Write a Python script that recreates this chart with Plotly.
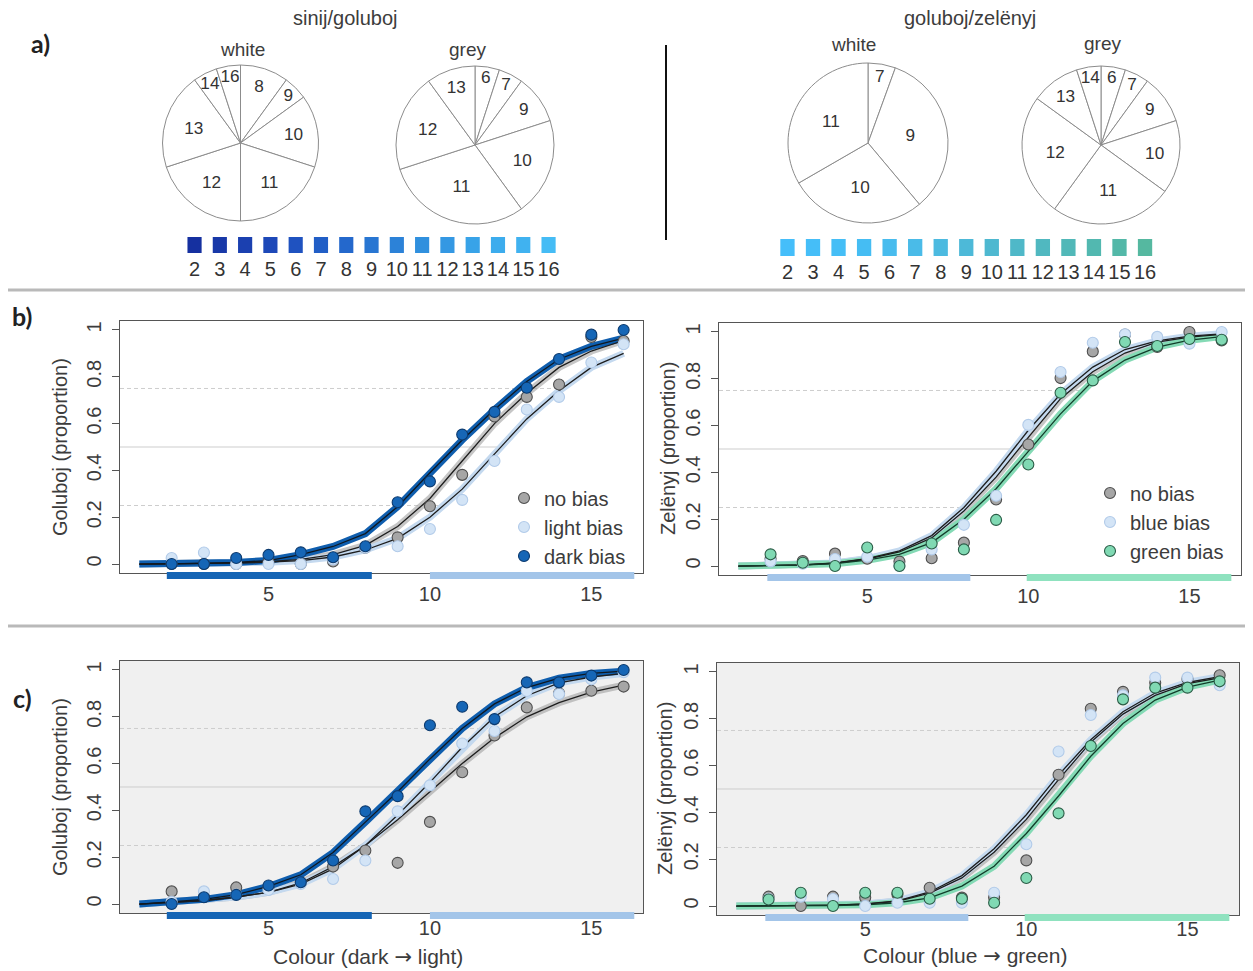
import plotly.graph_objects as go

# target canvas 1253x971; the page body adds an 8px margin, so the figure is drawn 8px smaller
PAGE_W, PAGE_H = 1253, 971
OFF = 8
W, H = PAGE_W - OFF, PAGE_H - OFF

# ---------------- data ----------------
levels = list(range(2, 17))          # colour numbers with data points
curve_x = list(range(1, 17))         # fitted-curve evaluation points

# a) pies: focal colour choices
pie_sg_white_labels = [8, 9, 10, 11, 12, 13, 14, 16]
pie_sg_white_counts = [2, 1, 3, 4, 4, 4, 1, 1]
pie_sg_grey_labels = [6, 7, 9, 10, 11, 12, 13]
pie_sg_grey_counts = [1, 1, 2, 4, 6, 4, 2]
pie_gz_white_labels = [7, 9, 10, 11]
pie_gz_white_counts = [1, 6, 5, 6]
pie_gz_grey_labels = [6, 7, 9, 10, 11, 12, 13, 14]
pie_gz_grey_counts = [1, 1, 2, 3, 5, 5, 2, 1]

# colour strips (stimuli 2..16)
strip_sg_colors = ['#1530a0', '#1838a8', '#1b40b0', '#1d48b8', '#1f52c0', '#215ec6', '#2468cc',
                   '#2876d2', '#2c82d8', '#3090de', '#3498e3', '#38a3e8', '#3caced', '#40b2f0', '#45bcf5']
strip_gz_colors = ['#45befa', '#45bef8', '#45bef6', '#45bdf3', '#48bcee', '#4abbe8', '#4cbae0',
                   '#4db9d8', '#4eb8d0', '#4fb8c8', '#50b8c0', '#51b8b8', '#52b8b0', '#53b8a8', '#55b8a0']

# category ranges drawn under the x axis
cat_sg_ranges = [[1.85, 8.2], [10.0, 16.33]]
cat_gz_ranges = [[1.9, 8.2], [9.95, 16.3]]

# b) sinij/goluboj
b_sg_pts_none = [0.0, 0.0, 0.0, 0.01, 0.0, 0.011, 0.07, 0.114, 0.247, 0.381, 0.63, 0.714, 0.767, 0.97, 0.953]
b_sg_pts_light = [0.026, 0.049, 0.0, 0.0, 0.0, 0.02, 0.07, 0.076, 0.15, 0.274, 0.44, 0.66, 0.714, 0.861, 0.939]
b_sg_pts_dark = [0.0, 0.0, 0.026, 0.039, 0.05, 0.029, 0.076, 0.264, 0.353, 0.553, 0.65, 0.753, 0.876, 0.98, 1.0]
b_sg_fit_none = [0.0, 0.001, 0.002, 0.005, 0.01, 0.02, 0.04, 0.08, 0.16, 0.28, 0.44, 0.6, 0.73, 0.84, 0.91, 0.955]
b_sg_fit_light = [0.0, 0.001, 0.002, 0.004, 0.008, 0.015, 0.03, 0.06, 0.11, 0.2, 0.32, 0.47, 0.62, 0.74, 0.84, 0.9]
b_sg_fit_dark = [0.0, 0.001, 0.003, 0.007, 0.015, 0.04, 0.075, 0.13, 0.245, 0.39, 0.53, 0.66, 0.78, 0.875, 0.93, 0.965]

# b) goluboj/zelenyj
b_gz_pts_none = [0.031, 0.021, 0.053, 0.031, 0.019, 0.033, 0.1, 0.284, 0.519, 0.803, 0.917, 0.989, 0.936, 1.0, 0.964]
b_gz_pts_blue = [0.02, 0.01, 0.03, 0.04, 0.0, 0.071, 0.176, 0.3, 0.603, 0.829, 0.954, 0.99, 0.979, 0.95, 1.0]
b_gz_pts_green = [0.05, 0.014, 0.0, 0.079, 0.0, 0.096, 0.071, 0.197, 0.434, 0.74, 0.793, 0.957, 0.94, 0.97, 0.967]
b_gz_fit_none = [0.0, 0.002, 0.005, 0.012, 0.03, 0.06, 0.12, 0.235, 0.38, 0.55, 0.715, 0.83, 0.91, 0.957, 0.978, 0.99]
b_gz_fit_blue = [0.0, 0.002, 0.005, 0.013, 0.032, 0.065, 0.13, 0.25, 0.405, 0.58, 0.735, 0.85, 0.925, 0.962, 0.982, 0.992]
b_gz_fit_green = [0.0, 0.002, 0.004, 0.01, 0.025, 0.05, 0.1, 0.2, 0.33, 0.49, 0.65, 0.79, 0.88, 0.935, 0.965, 0.98]

# c) sinij/goluboj
c_sg_pts_none = [0.054, 0.03, 0.071, 0.07, 0.09, 0.16, 0.229, 0.176, 0.351, 0.563, 0.72, 0.84, 0.9, 0.911, 0.929]
c_sg_pts_light = [0.01, 0.054, 0.04, 0.06, 0.086, 0.107, 0.186, 0.396, 0.507, 0.686, 0.739, 0.91, 0.897, 0.96, 0.99]
c_sg_pts_dark = [0.0, 0.029, 0.039, 0.079, 0.093, 0.186, 0.396, 0.461, 0.764, 0.843, 0.79, 0.947, 0.947, 0.976, 1.0]
c_sg_fit_none = [0.0, 0.008, 0.015, 0.03, 0.05, 0.09, 0.16, 0.25, 0.36, 0.48, 0.6, 0.71, 0.8, 0.86, 0.905, 0.935]
c_sg_fit_light = [0.0, 0.008, 0.015, 0.03, 0.05, 0.085, 0.15, 0.25, 0.38, 0.52, 0.67, 0.8, 0.89, 0.945, 0.97, 0.985]
c_sg_fit_dark = [0.0, 0.01, 0.02, 0.04, 0.075, 0.125, 0.22, 0.35, 0.48, 0.62, 0.75, 0.855, 0.925, 0.965, 0.985, 0.995]

# c) goluboj/zelenyj
c_gz_pts_none = [0.04, 0.0, 0.04, 0.036, 0.05, 0.078, 0.036, 0.036, 0.195, 0.561, 0.843, 0.915, 0.954, 0.97, 0.986]
c_gz_pts_blue = [0.03, 0.04, 0.03, 0.0, 0.014, 0.014, 0.014, 0.057, 0.264, 0.66, 0.816, 0.9, 0.976, 0.976, 0.943]
c_gz_pts_green = [0.028, 0.057, 0.0, 0.057, 0.057, 0.031, 0.031, 0.014, 0.12, 0.396, 0.684, 0.883, 0.933, 0.933, 0.96]
c_gz_fit_none = [0.0, 0.001, 0.002, 0.004, 0.008, 0.02, 0.055, 0.12, 0.23, 0.37, 0.54, 0.7, 0.82, 0.9, 0.95, 0.975]
c_gz_fit_blue = [0.0, 0.001, 0.002, 0.004, 0.009, 0.022, 0.06, 0.13, 0.245, 0.39, 0.56, 0.71, 0.83, 0.91, 0.955, 0.98]
c_gz_fit_green = [0.0, 0.0, 0.001, 0.002, 0.005, 0.014, 0.035, 0.085, 0.17, 0.31, 0.47, 0.64, 0.78, 0.88, 0.935, 0.965]

threshold_levels = [0.25, 0.5, 0.75]
y_ticks = [0, 0.2, 0.4, 0.6, 0.8, 1]
y_ticktext = ['0', '0.2', '0.4', '0.6', '0.8', '1']
x_ticks = [5, 10, 15]

# ---------------- styling ----------------
FONT = 'Liberation Sans, Arial, sans-serif'
TXT = '#3c3c3c'

STY = {
    'no bias': dict(fill='#a6a6a6', edge='#4f4f4f', band='rgba(160,160,160,0.6)', line='#1e1e1e'),
    'light bias': dict(fill='#d3e4f6', edge='#b2cbe9', band='#c4d9ef', line='#1e1e1e'),
    'blue bias': dict(fill='#d3e4f6', edge='#b2cbe9', band='#c4d9ef', line='#1e1e1e'),
    'dark bias': dict(fill='#1666b6', edge='#0c3a6e', band='#0f5eae', line='#101820'),
    'green bias': dict(fill='#80d9b3', edge='#2a5c46', band='#84dab5', line='#123d2a'),
}
CAT_COL = {'dark': '#1565b5', 'light': '#a3c5e9', 'green': '#8fe2bf'}
ARROW = '<span style="font-family:DejaVu Sans">→</span>'


def fx(p):
    return (p - OFF) / W


def fy(p):
    return 1 - (p - OFF) / H


fig = go.Figure()
layout = dict(width=W, height=H, margin=dict(l=0, r=0, t=0, b=0),
              paper_bgcolor='white', plot_bgcolor='rgba(0,0,0,0)',
              font=dict(family=FONT, color=TXT), showlegend=True,
              uniformtext=dict(minsize=17, mode='show'))
shapes = []
annotations = []

# ---------------- pies ----------------
pies = [
    (pie_sg_white_labels, pie_sg_white_counts, 240.5, 143, 78),
    (pie_sg_grey_labels, pie_sg_grey_counts, 475, 145, 79),
    (pie_gz_white_labels, pie_gz_white_counts, 868, 143, 80),
    (pie_gz_grey_labels, pie_gz_grey_counts, 1101, 145, 79),
]
for labels, counts, cx, cy, r in pies:
    fig.add_trace(go.Pie(
        labels=[str(v) for v in labels], values=counts, sort=False, direction='clockwise',
        rotation=0, textinfo='label', textposition='inside', insidetextorientation='horizontal',
        marker=dict(colors=['white'] * len(labels), line=dict(color='#8c8c8c', width=1)),
        textfont=dict(size=18, color='#333333', family=FONT),
        domain=dict(x=[fx(cx - r), fx(cx + r)], y=[fy(cy + r), fy(cy - r)]),
        showlegend=False, hoverinfo='skip'))

# ---------------- colour strips ----------------
strips = [('x5', 'y5', strip_sg_colors, (181.9, 561.2), (237, 253)),
          ('x6', 'y6', strip_gz_colors, (774.7, 1157.8), (239, 256))]
for xa, ya, cols, xd, yd in strips:
    fig.add_trace(go.Bar(x=levels, y=[1] * len(levels), width=0.56, marker=dict(color=cols, line=dict(width=0)),
                         xaxis=xa, yaxis=ya, showlegend=False, hoverinfo='skip'))
    n = xa[1:]
    layout['xaxis' + n] = dict(domain=[fx(xd[0]), fx(xd[1])], range=[1.5, 16.5], anchor=ya,
                               tickvals=levels, ticktext=[str(v) for v in levels], ticks='',
                               showline=False, showgrid=False, zeroline=False,
                               tickfont=dict(size=20, color='#333333'), ticklabelstandoff=2)
    layout['yaxis' + n] = dict(domain=[fy(yd[1]), fy(yd[0])], range=[0, 1], anchor=xa, visible=False)

# ---------------- psychometric panels ----------------
panels = [
    dict(n='', bn='7', xd=(120, 643), yd=(320.6, 573.4), bg=False, legend='legend', xstand=2,
         series=[('no bias', b_sg_pts_none, b_sg_fit_none), ('light bias', b_sg_pts_light, b_sg_fit_light),
                 ('dark bias', b_sg_pts_dark, b_sg_fit_dark)],
         cats=cat_sg_ranges, catcols=['dark', 'light']),
    dict(n='2', bn='8', xd=(719, 1241), yd=(322.6, 575.4), bg=False, legend='legend2', xstand=2,
         series=[('no bias', b_gz_pts_none, b_gz_fit_none), ('blue bias', b_gz_pts_blue, b_gz_fit_blue),
                 ('green bias', b_gz_pts_green, b_gz_fit_green)],
         cats=cat_gz_ranges, catcols=['light', 'green']),
    dict(n='3', bn='9', xd=(120, 643), yd=(660.6, 913.4), bg=True, legend=None, xstand=-4,
         series=[('no bias', c_sg_pts_none, c_sg_fit_none), ('light bias', c_sg_pts_light, c_sg_fit_light),
                 ('dark bias', c_sg_pts_dark, c_sg_fit_dark)],
         cats=cat_sg_ranges, catcols=['dark', 'light']),
    dict(n='4', bn='10', xd=(717, 1239), yd=(662.6, 915.4), bg=True, legend=None, xstand=-5,
         series=[('no bias', c_gz_pts_none, c_gz_fit_none), ('blue bias', c_gz_pts_blue, c_gz_fit_blue),
                 ('green bias', c_gz_pts_green, c_gz_fit_green)],
         cats=cat_gz_ranges, catcols=['light', 'green']),
]

XR = [0.4, 16.6]
YR = [-0.04, 1.04]


def crossing(xs, ys, level):
    for i in range(len(xs) - 1):
        if ys[i] < level <= ys[i + 1]:
            return xs[i] + (level - ys[i]) / (ys[i + 1] - ys[i]) * (xs[i + 1] - xs[i])
    return xs[-1]


for p in panels:
    xa = 'x' + p['n']
    ya = 'y' + p['n']
    layout['xaxis' + p['n']] = dict(domain=[fx(p['xd'][0]), fx(p['xd'][1])], range=XR, anchor=ya,
                                    tickvals=x_ticks, ticks='', showgrid=False, zeroline=False,
                                    showline=True, mirror=True, linecolor='#555555', linewidth=1.2,
                                    tickfont=dict(size=20, color=TXT), ticklabelstandoff=p['xstand'])
    layout['yaxis' + p['n']] = dict(domain=[fy(p['yd'][1]), fy(p['yd'][0])], range=YR, anchor=xa,
                                    tickvals=y_ticks, ticktext=y_ticktext, ticks='outside', ticklen=7,
                                    tickcolor='#555555', tickwidth=1, tickangle=-90,
                                    showgrid=False, zeroline=False, showline=True, mirror=True,
                                    linecolor='#555555', linewidth=1.2,
                                    tickfont=dict(size=20, color=TXT), ticklabelstandoff=3)
    if p['bg']:
        shapes.append(dict(type='rect', xref=xa + ' domain', yref=ya + ' domain', x0=0, x1=1, y0=0, y1=1,
                           fillcolor='#f0f0f0', line=dict(width=0), layer='below'))
    # threshold lines
    for lv in threshold_levels:
        xend = max(crossing(curve_x, fit, lv) for _, _, fit in p['series'])
        fig.add_trace(go.Scatter(x=[XR[0], xend], y=[lv, lv], mode='lines', xaxis=xa, yaxis=ya,
                                 line=dict(color='#cdcdcd', width=1, dash='solid' if lv == 0.5 else '4px,3px'),
                                 showlegend=False, hoverinfo='skip'))
    # bands
    for name, pts, fit in p['series']:
        s = STY[name]
        fig.add_trace(go.Scatter(x=curve_x, y=fit, mode='lines', xaxis=xa, yaxis=ya,
                                 line=dict(color=s['band'], width=7), showlegend=False, hoverinfo='skip'))
    # thin fitted lines
    for name, pts, fit in p['series']:
        s = STY[name]
        fig.add_trace(go.Scatter(x=curve_x, y=fit, mode='lines', xaxis=xa, yaxis=ya,
                                 line=dict(color=s['line'], width=1.3), showlegend=False, hoverinfo='skip'))
    # observed points
    for name, pts, fit in p['series']:
        s = STY[name]
        kw = dict(legend=p['legend'], showlegend=True) if p['legend'] else dict(showlegend=False)
        fig.add_trace(go.Scatter(x=levels, y=pts, mode='markers', name=name, xaxis=xa, yaxis=ya,
                                 marker=dict(size=11, color=s['fill'], line=dict(color=s['edge'], width=1.1)),
                                 cliponaxis=False, hoverinfo='skip', **kw))
    # category bars on a thin hidden strip at the bottom border
    bx = 'x' + p['bn']
    by = 'y' + p['bn']
    bottom = p['yd'][1]
    layout['xaxis' + p['bn']] = dict(domain=[fx(p['xd'][0]), fx(p['xd'][1])], range=XR, anchor=by,
                                     visible=False)
    layout['yaxis' + p['bn']] = dict(domain=[fy(bottom + 10), fy(bottom - 6)], range=[-1, 1], anchor=bx,
                                     visible=False)
    for rng, cc in zip(p['cats'], p['catcols']):
        fig.add_trace(go.Scatter(x=rng, y=[0, 0], mode='lines', xaxis=bx, yaxis=by,
                                 line=dict(color=CAT_COL[cc], width=7), showlegend=False, hoverinfo='skip'))

# legends
legend_font = dict(size=20, color=TXT, family=FONT)
layout['legend'] = dict(x=fx(504), y=fy(527), xanchor='left', yanchor='middle', bgcolor='rgba(0,0,0,0)',
                        font=legend_font, tracegroupgap=0, itemwidth=30)
layout['legend2'] = dict(x=fx(1090), y=fy(522), xanchor='left', yanchor='middle', bgcolor='rgba(0,0,0,0)',
                         font=legend_font, tracegroupgap=0, itemwidth=30)

# separators and divider
shapes.append(dict(type='line', xref='paper', yref='paper', x0=0, x1=1, y0=fy(290), y1=fy(290),
                   line=dict(color='#b9b9b9', width=3)))
shapes.append(dict(type='line', xref='paper', yref='paper', x0=0, x1=1, y0=fy(626), y1=fy(626),
                   line=dict(color='#b9b9b9', width=3)))
shapes.append(dict(type='line', xref='paper', yref='paper', x0=fx(666), x1=fx(666), y0=fy(45), y1=fy(240),
                   line=dict(color='#111111', width=2)))


def ann(text, x, y, size, angle=0, bold=False, color=TXT, family=FONT):
    annotations.append(dict(text=('<b>%s</b>' % text) if bold else text, x=fx(x), y=fy(y),
                            xref='paper', yref='paper', xanchor='center', yanchor='middle',
                            showarrow=False, textangle=angle,
                            font=dict(size=size, color=color, family=family)))


ann('sinij/goluboj', 345, 18, 20)
ann('goluboj/zelënyj', 970, 18, 20)
ann('white', 243, 49, 19)
ann('grey', 467, 49, 19)
ann('white', 853, 45, 19)
ann('grey', 1102, 43, 19)
ann('a)', 40, 43, 25, bold=True, color='#222222', family='Lato, Open Sans, sans-serif')
ann('b)', 22, 316, 25, bold=True, color='#222222', family='Lato, Open Sans, sans-serif')
ann('c)', 22, 698, 25, bold=True, color='#222222', family='Lato, Open Sans, sans-serif')
ann('Goluboj (proportion)', 60, 447, 20, angle=-90)
ann('Zelënyj (proportion)', 668, 449, 20, angle=-90)
ann('Goluboj (proportion)', 60, 787, 20, angle=-90)
ann('Zelënyj (proportion)', 665, 789, 20, angle=-90)
ann('Colour (dark %s light)' % ARROW, 368, 957, 21)
ann('Colour (blue %s green)' % ARROW, 965, 956, 21)

layout['shapes'] = shapes
layout['annotations'] = annotations
fig.update_layout(**layout)
fig.write_html('out.html')
